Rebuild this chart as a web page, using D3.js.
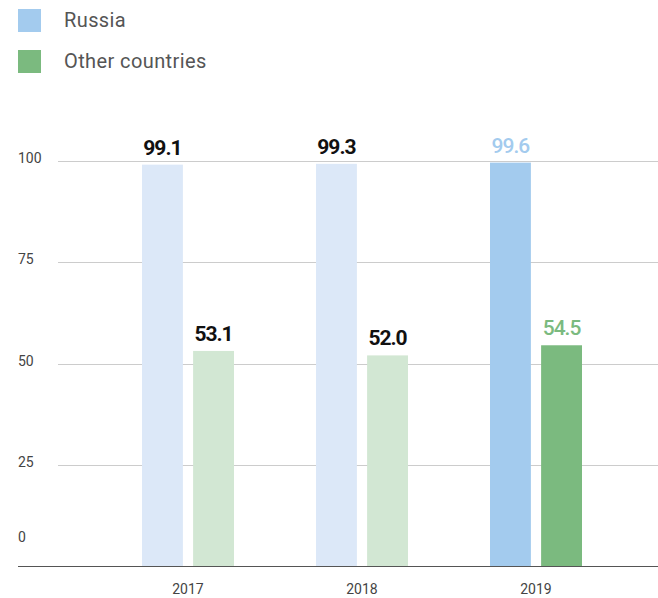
<!DOCTYPE html>
<html><head><meta charset="utf-8">
<script src="https://cdn.jsdelivr.net/npm/d3@7"></script>
<style>
body{margin:0;background:#fff;}
text{font-family:"Roboto","Liberation Sans",sans-serif;}
</style></head>
<body><svg id="chart" width="658" height="598"></svg>
<script>
const years = ["2017","2018","2019"];
const seriesNames = ["Russia","Other countries"];
const russia = [99.1, 99.3, 99.6];
const other = [53.1, 52.0, 54.5];
const yTicks = [0, 25, 50, 75, 100];

const colorsStrong = {"Russia":"#a3cbee","Other countries":"#7bba7f"};
const colorsLight = {"Russia":"#dce8f8","Other countries":"#d2e7d3"};

const svg = d3.select("#chart");
const y = d3.scaleLinear().domain([0,100]).range([566,161]);
const x = d3.scaleBand().domain(years).range([101,623]);
const xs = d3.scaleBand().domain(seriesNames).range([41,133]).paddingInner(0.2);

// legend
const leg = svg.append("g");
seriesNames.forEach((s,i)=>{
  leg.append("rect").attr("x",18).attr("y",9+i*41).attr("width",23).attr("height",23).attr("fill",colorsStrong[s]);
  leg.append("text").attr("x",64).attr("y",27+i*41).attr("font-size",20).attr("fill","#555")
    .attr("letter-spacing","0.4").text(s);
});

// gridlines
svg.append("g").selectAll("line").data(yTicks.filter(d=>d>0)).join("line")
  .attr("x1",58).attr("x2",658).attr("y1",d=>Math.round(y(d))+0.5).attr("y2",d=>Math.round(y(d))+0.5)
  .attr("stroke","#cccccc").attr("stroke-width",1);

svg.append("g").selectAll("text").data(yTicks).join("text")
  .attr("x",18).attr("y",d=> d===0 ? y(d)-24 : y(d)+2)
  .attr("font-size",14).attr("fill","#444").text(d=>d);

// bars
const data = years.map((yr,i)=>({year:yr, vals:[{s:"Russia",v:russia[i]},{s:"Other countries",v:other[i]}], last:i===years.length-1}));
const g = svg.append("g").selectAll("g").data(data).join("g").attr("transform",d=>`translate(${x(d.year)},0)`);
g.selectAll("rect").data(d=>d.vals.map(o=>({...o,last:d.last}))).join("rect")
  .attr("x",d=>xs(d.s)).attr("width",xs.bandwidth())
  .attr("y",d=>y(d.v)).attr("height",d=>y(0)-y(d.v))
  .attr("fill",d=>d.last?colorsStrong[d.s]:colorsLight[d.s]);
g.selectAll("text").data(d=>d.vals.map(o=>({...o,last:d.last}))).join("text")
  .attr("x",d=>xs(d.s)+xs.bandwidth()/2).attr("y",d=>y(d.v)-10)
  .attr("text-anchor","middle").attr("font-size",21).attr("font-weight",d=>d.last?"500":"700")
  .attr("letter-spacing","-1")
  .attr("fill",d=>d.last?colorsStrong[d.s]:"#111").text(d=>d.v.toFixed(1));

// baseline
svg.append("line").attr("x1",18).attr("x2",658).attr("y1",566.5).attr("y2",566.5).attr("stroke","#555").attr("stroke-width",1);

// x labels
svg.append("g").selectAll("text").data(years).join("text")
  .attr("x",d=>x(d)+x.bandwidth()/2).attr("y",594).attr("text-anchor","middle")
  .attr("font-size",14).attr("fill","#444").text(d=>d);
</script></body></html>
